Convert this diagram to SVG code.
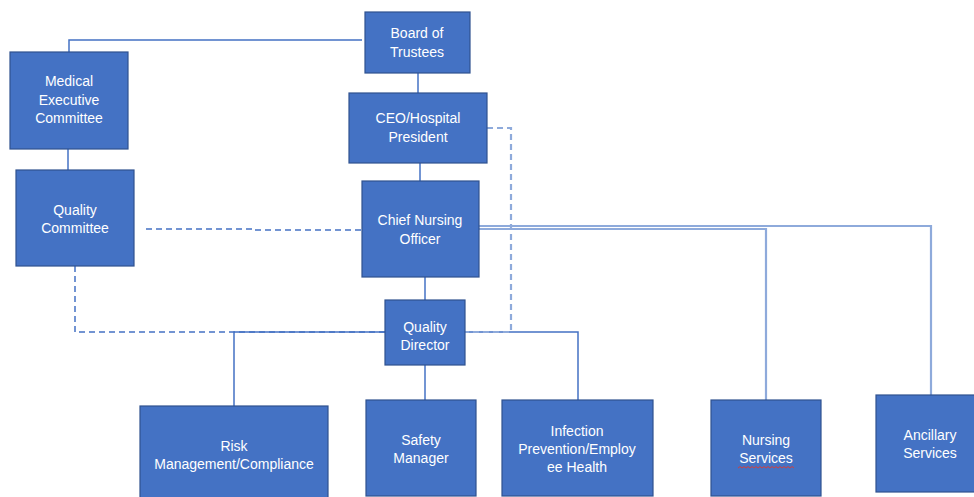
<svg xmlns="http://www.w3.org/2000/svg" width="974" height="497" viewBox="0 0 974 497">
<style>
.box{fill:#4472c4;stroke:#2f528f;stroke-width:1.2}
.t{font-family:"Liberation Sans","Open Sans",sans-serif;font-size:14px;fill:#ffffff;text-anchor:middle}
.ln{fill:none;stroke:#4472c4;stroke-width:1.5}
.lt{fill:none;stroke:#8eaadb;stroke-width:2.2}
.ds{fill:none;stroke:#4472c4;stroke-width:1.5;stroke-dasharray:6,4}
.dl{fill:none;stroke:#8eaadb;stroke-width:2.2;stroke-dasharray:6,4}
</style>
<rect width="974" height="497" fill="#ffffff"/>
<g id="connectors">
<path class="ln" d="M69,52 V40 H362"/>
<path class="ln" d="M418,73 V93"/>
<path class="ln" d="M68,149 V170"/>
<path class="ln" d="M420,163 V181"/>
<path class="ln" d="M425,277 V300"/>
<path class="ln" d="M385,332 H234 V406"/>
<path class="ln" d="M425,365 V400"/>
<path class="ln" d="M465,332 H578 V400"/>
<path class="lt" d="M479,226 H931 V395"/>
<path class="lt" d="M479,229 H766 V400"/>
<path class="ds" d="M146,229 H253 V230 H361"/>
<path class="ds" d="M75,266 V332 H385"/>
<path class="dl" d="M487,128 H511 V332 H465"/>
</g>
<g id="board"><rect class="box" x="365" y="12" width="105" height="61"/><text class="t" x="417" y="38">Board of</text><text class="t" x="417" y="57">Trustees</text></g>
<g id="mec"><rect class="box" x="10" y="52" width="118" height="97"/><text class="t" x="69" y="86">Medical</text><text class="t" x="69" y="105">Executive</text><text class="t" x="69" y="123">Committee</text></g>
<g id="ceo"><rect class="box" x="349" y="93" width="138" height="70"/><text class="t" x="418" y="123">CEO/Hospital</text><text class="t" x="418" y="142">President</text></g>
<g id="qc"><rect class="box" x="16" y="170" width="118" height="96"/><text class="t" x="75" y="215">Quality</text><text class="t" x="75" y="233">Committee</text></g>
<g id="cno"><rect class="box" x="362" y="181" width="117" height="96"/><text class="t" x="420" y="225">Chief Nursing</text><text class="t" x="420" y="244">Officer</text></g>
<g id="qd"><rect class="box" x="385" y="300" width="80" height="65"/><text class="t" x="425" y="332">Quality</text><text class="t" x="425" y="350">Director</text></g>
<g id="risk"><rect class="box" x="140" y="406" width="188" height="95"/><text class="t" x="234" y="451">Risk</text><text class="t" x="234" y="469">Management/Compliance</text></g>
<g id="safety"><rect class="box" x="366" y="400" width="110" height="96"/><text class="t" x="421" y="445">Safety</text><text class="t" x="421" y="463">Manager</text></g>
<g id="infection"><rect class="box" x="502" y="400" width="151" height="96"/><text class="t" x="577" y="436">Infection</text><text class="t" x="577" y="454">Prevention/Employ</text><text class="t" x="577" y="472">ee Health</text></g>
<g id="nursing"><rect class="box" x="711" y="400" width="110" height="96"/><text class="t" x="766" y="445">Nursing</text><text class="t" x="766" y="463">Services</text><path d="M738,468 l2,-1.5 l2,1.5 l2,-1.5 l2,1.5 l2,-1.5 l2,1.5 l2,-1.5 l2,1.5 l2,-1.5 l2,1.5 l2,-1.5 l2,1.5 l2,-1.5 l2,1.5 l2,-1.5 l2,1.5 l2,-1.5 l2,1.5 l2,-1.5 l2,1.5 l2,-1.5 l2,1.5 l2,-1.5 l2,1.5 l2,-1.5 l2,1.5 l2,-1.5 l2,1.5" fill="none" stroke="#d04040" stroke-width="1"/></g>
<g id="ancillary"><rect class="box" x="876" y="395" width="104" height="97"/><text class="t" x="930" y="440">Ancillary</text><text class="t" x="930" y="458">Services</text></g>
</svg>
